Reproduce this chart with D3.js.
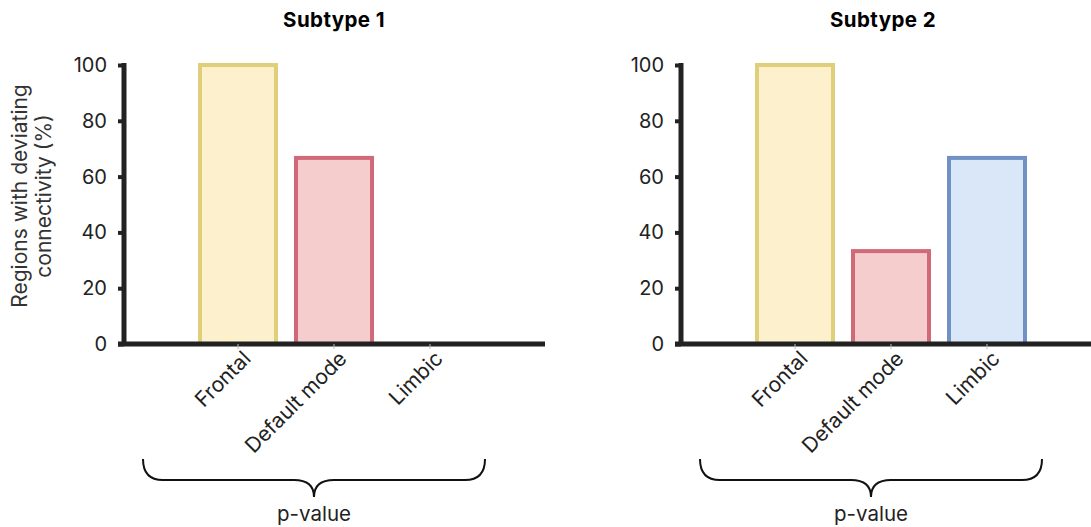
<!DOCTYPE html>
<html><head><meta charset="utf-8">
<script src="https://cdn.jsdelivr.net/npm/d3@7"></script>
<style>body{margin:0;background:#fff}svg{display:block;font-family:Inter,"Noto Sans",sans-serif}</style>
</head><body><svg id="c" width="1091" height="527"></svg>
<script>
const categories = ["Frontal", "Default mode", "Limbic"];
const subtype1 = [100, 66.7, 0];
const subtype2 = [100, 33.3, 66.7];
const panelTitles = ["Subtype 1", "Subtype 2"];
const yTicks = [0, 20, 40, 60, 80, 100];
const yLabelLines = ["Regions with deviating", "connectivity (%)"];
const bracketLabel = "p-value";

const fills = ["#fdf1cd", "#f6cdcd", "#d9e7f9"];
const strokes = ["#e0cf7a", "#d06a78", "#6f91c4"];

const svg = d3.select("#c");
const panels = [
  {dx: 0, values: subtype1, title: panelTitles[0], titleX: 334},
  {dx: 557, values: subtype2, title: panelTitles[1], titleX: 326}
];

const y = d3.scaleLinear().domain([0, 100]).range([344, 65]);
const x = d3.scaleBand().domain(categories).range([190, 478]).paddingInner(0.2).paddingOuter(0.1);

panels.forEach((p, pi) => {
  const g = svg.append("g").attr("transform", `translate(${p.dx},0)`);
  g.append("text").attr("x", p.titleX).attr("y", 27).attr("text-anchor", "middle")
    .attr("font-weight", "700").attr("font-size", 20.5).attr("letter-spacing", 0.4)
    .attr("fill", "#000").text(p.title);

  g.selectAll("rect.bar").data(categories).join("rect").attr("class", "bar")
    .attr("x", d => x(d) + x.bandwidth()/2 - 38)
    .attr("width", 76)
    .attr("y", (d, i) => y(p.values[i]))
    .attr("height", (d, i) => y(0) - y(p.values[i]))
    .attr("fill", (d, i) => fills[i])
    .attr("stroke", (d, i) => strokes[i])
    .attr("stroke-width", 4);

  const yAxis = g.append("g").attr("transform", "translate(124,0)")
    .call(d3.axisLeft(y).tickValues(yTicks).tickSize(6).tickPadding(11));
  yAxis.select(".domain").attr("stroke", "#222").attr("stroke-width", 5)
    .attr("d", `M0,${y(100)-2}V${y(0)+2}`);
  yAxis.selectAll(".tick line").attr("stroke", "#222").attr("stroke-width", 4);
  yAxis.selectAll(".tick text").attr("font-size", 20).attr("fill", "#222")
    .attr("font-family", "Inter, sans-serif");

  const xAxis = g.append("g").attr("transform", "translate(0,344)")
    .call(d3.axisBottom(x).tickSize(5).tickPadding(0));
  xAxis.select(".domain").attr("stroke", "#222").attr("stroke-width", 5)
    .attr("d", "M118,0H545");
  xAxis.selectAll(".tick line").attr("stroke", "#bbb").attr("stroke-width", 1);
  xAxis.selectAll(".tick text")
    .attr("font-size", 21).attr("fill", "#222").attr("font-family", "Inter, sans-serif")
    .attr("text-anchor", "end").attr("dy", null).attr("y", null)
    .attr("transform", "translate(14,16) rotate(-45)");

  const L = 143, R = 485, C = 314, top = 459, mid = 480, tip = 497;
  g.append("path")
    .attr("d", `M${L},${top} Q${L},${mid} ${L+20},${mid} L${C-20},${mid} Q${C},${mid} ${C},${tip} M${C},${tip} Q${C},${mid} ${C+20},${mid} L${R-20},${mid} Q${R},${mid} ${R},${top}`)
    .attr("fill", "none").attr("stroke", "#111").attr("stroke-width", 2);
  g.append("text").attr("x", C).attr("y", 521).attr("text-anchor", "middle")
    .attr("font-size", 20.5).attr("fill", "#222").text(bracketLabel);

  if (pi === 0) {
    const t = g.append("text").attr("transform", "translate(27,196) rotate(-90)")
      .attr("text-anchor", "middle").attr("font-size", 21).attr("fill", "#333");
    yLabelLines.forEach((line, i) => {
      t.append("tspan").attr("x", 0).attr("dy", i === 0 ? 0 : 24).text(line);
    });
  }
});
</script>
</body></html>
